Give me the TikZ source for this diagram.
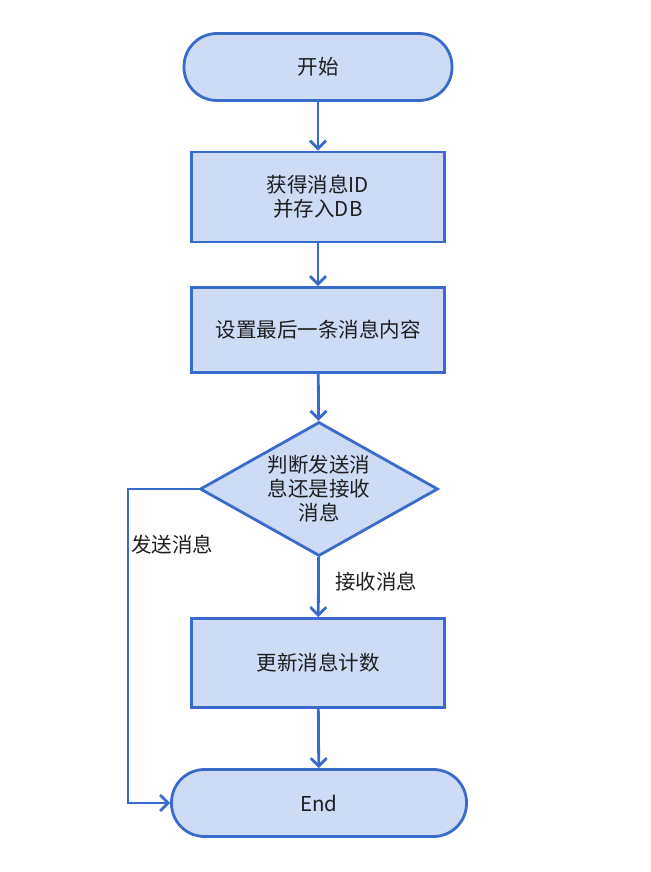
\documentclass[tikz,border=0pt]{standalone}
\usepackage{fontspec}
\newfontfamily\cjk{Noto Sans CJK SC}
\usetikzlibrary{shapes.geometric,arrows.meta,positioning}
\definecolor{flowblue}{RGB}{58,106,204}
\definecolor{flowfill}{RGB}{205,219,245}
\definecolor{flowtext}{RGB}{30,30,30}
\tikzset{
    every node/.style={font=\cjk\fontsize{20.5}{24}\selectfont, text=flowtext},
    terminal/.style={rectangle, rounded corners=33pt, draw=flowblue, line width=2.8pt, fill=flowfill, minimum width=268pt, minimum height=67pt},
    procbox/.style={rectangle, draw=flowblue, line width=2.8pt, fill=flowfill, minimum width=253pt, minimum height=88pt, align=center},
    decision/.style={diamond, draw=flowblue, line width=2.8pt, fill=flowfill, aspect=1.78, inner sep=0pt, minimum width=238pt, minimum height=134pt, align=center},
    flow/.style={draw=flowblue, line width=2.8pt, -{Straight Barb[length=8pt,width=16pt]}}
}

\begin{document}
\begin{tikzpicture}[x=1pt, y=-1pt]
    \useasboundingbox (0,0) rectangle (650,872);
    % Flow nodes
    \node[terminal] (start) at (318,67) {开始};
    \node[procbox, minimum height=90pt] (getid) at (318,197) {获得消息ID\\并存入DB};
    \node[procbox, minimum height=85pt] (setlast) at (318,330) {设置最后一条消息内容};
    \node[decision] (check) at (319,489) {判断发送消\\息还是接收\\消息};
    \node[procbox, minimum height=89pt] (count) at (318,663) {更新消息计数};
    \node[terminal, minimum width=295pt] (stop) at (319,803) {End};
    \coordinate (loop) at (128,803);

    % Connectors
    \draw[flow] (start) -- (getid);
    \draw[flow] (getid) -- (setlast);
    \draw[flow] (setlast) -- (check);
    \draw[flow] (check) -- (count);
    \draw[flow] (count) -- (stop);
    \draw[flow] (check.west) -| (loop) -- (stop.west);

    % Branch labels
    \node (sendlbl) at (172,545) {发送消息};
    \node (recvlbl) at (376,582) {接收消息};
\end{tikzpicture}
\end{document}
